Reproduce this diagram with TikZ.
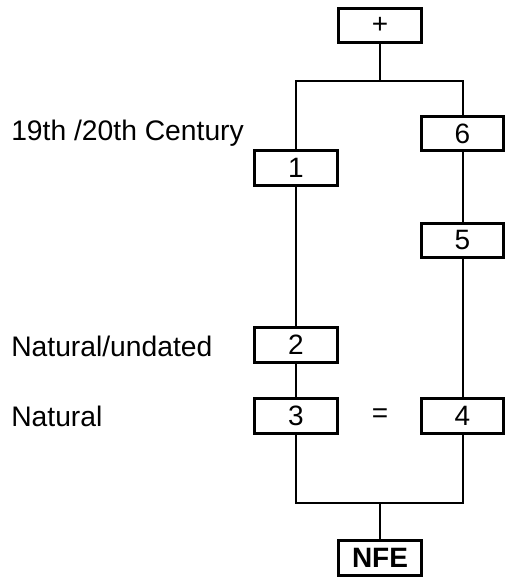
\documentclass[tikz,border=0pt]{standalone}
\usepackage{fontspec}
\setmainfont{Liberation Sans}
\begin{document}
\begin{tikzpicture}[x=0.75pt,y=-0.75pt,
  box/.style={draw=black,line width=2.25pt,minimum width=62pt,minimum height=26pt,inner sep=0pt,font=\fontsize{21}{25}\selectfont,fill=white},
  conn/.style={line width=1.5pt},
  lbl/.style={anchor=west,inner sep=0pt,font=\fontsize{21.2}{25}\selectfont}]
\useasboundingbox[fill=white] (0,0) rectangle (505,578);
\node[box] (plus) at (380,25.5) {+};
\node[box] (b6) at (462.5,133.5) {6};
\node[box] (b1) at (296,168) {1};
\node[box] (b5) at (462.5,240.5) {5};
\node[box] (b2) at (296,345) {2};
\node[box] (b3) at (296,416) {3};
\node[box] (b4) at (462.5,416) {4};
\node[box,font=\fontsize{21}{25}\selectfont\bfseries] (nfe) at (380,558) {NFE};
\node[inner sep=0pt,font=\fontsize{21}{25}\selectfont] (eq) at (380,416) {=};
\node[lbl] (l1) at (11,133) {19th /20th Century};
\node[lbl] (l2) at (11,346) {Natural/undated};
\node[lbl] (l3) at (11,416) {Natural};
\coordinate (top) at (380,81);
\coordinate (bot) at (380,503);
\draw[conn] (plus.south) -- (top);
\draw[conn] (b1.north) |- (top) -| (b6.north);
\draw[conn] (b1.south) -- (b2.north);
\draw[conn] (b2.south) -- (b3.north);
\draw[conn] (b6.south) -- (b5.north);
\draw[conn] (b5.south) -- (b4.north);
\draw[conn] (b3.south) |- (bot) -| (b4.south);
\draw[conn] (bot) -- (nfe.north);
\end{tikzpicture}
\end{document}
